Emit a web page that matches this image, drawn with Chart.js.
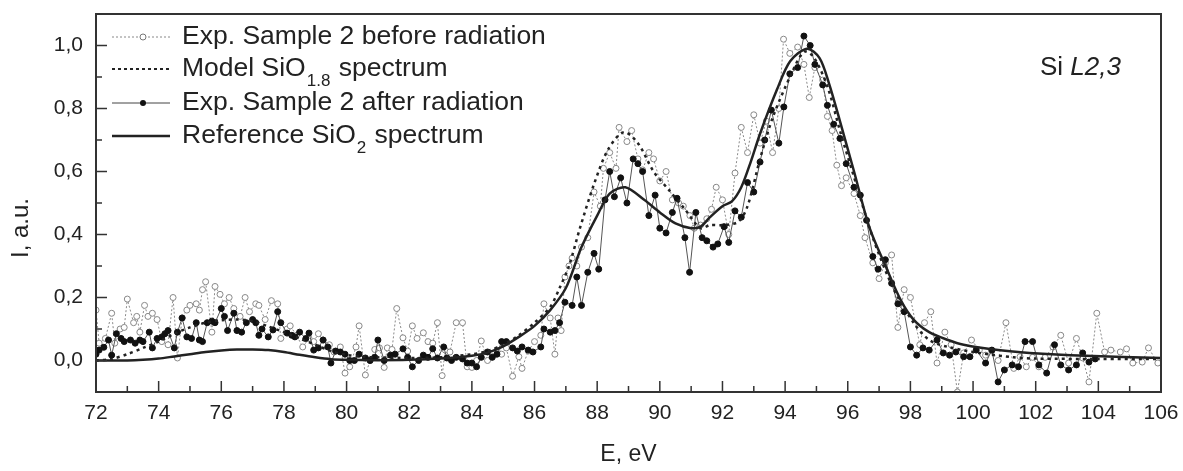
<!DOCTYPE html>
<html>
<head>
  <meta charset="utf-8">
  <title>Si L2,3 spectra</title>
  <script src="https://cdn.jsdelivr.net/npm/chart.js"></script>
  <style>
    body { margin: 0; background: #fff; }
    #wrap { width: 1183px; height: 471px; }
  </style>
</head>
<body>
<div id="wrap"><canvas id="chart" width="1183" height="471"></canvas></div>
<script>
  // tick labels
  const xTicks = [72, 74, 76, 78, 80, 82, 84, 86, 88, 90, 92, 94, 96, 98, 100, 102, 104, 106];
  const yTicks = [0, 0.2, 0.4, 0.6, 0.8, 1.0];

  // Exp. Sample 2 before radiation (open circles)
  const eBefore = [72.0, 72.1, 72.3, 72.5, 72.6, 72.77, 72.9, 73.0, 73.2, 73.3, 73.4, 73.55, 73.66, 73.8, 73.95,
    74.1, 74.3, 74.46, 74.6, 74.75, 74.9, 75.0, 75.2, 75.3, 75.4, 75.5, 75.7, 75.8, 75.96, 76.1, 76.25, 76.4,
    76.6, 76.76, 76.9, 77.1, 77.2, 77.4, 77.6, 77.8, 77.9, 78.1, 78.2, 78.4, 78.6, 78.8, 78.95, 79.1, 79.25,
    79.45, 79.6, 79.8, 79.95, 80.1, 80.3, 80.4, 80.6, 80.75, 80.9, 81.05, 81.2, 81.3, 81.45, 81.6, 81.8, 81.95,
    82.1, 82.25, 82.45, 82.6, 82.75, 82.9, 83.05, 83.15, 83.3, 83.5, 83.7, 83.85, 84.0, 84.15, 84.3, 84.5,
    84.65, 84.8, 84.95, 85.1, 85.3, 85.5, 85.6, 85.8, 86.0, 86.2, 86.3, 86.5, 86.65, 86.75, 86.85, 86.97,
    87.1, 87.2, 87.35, 87.5, 87.7, 87.9, 88.1, 88.2, 88.4, 88.6, 88.7, 88.95, 89.1, 89.3, 89.45, 89.65, 89.8,
    90.0, 90.2, 90.4, 90.6, 90.75, 90.96, 91.1, 91.3, 91.5, 91.65, 91.8, 92.0, 92.2, 92.4, 92.6, 92.8, 93.0,
    93.2, 93.4, 93.6, 93.8, 93.95, 94.15, 94.4, 94.6, 94.77, 94.95, 95.2, 95.35, 95.5, 95.65, 95.8, 95.95,
    96.2, 96.4, 96.55, 96.8, 97.0, 97.2, 97.4, 97.6, 97.8, 98.0, 98.3, 98.45, 98.65, 98.85, 99.1, 99.3, 99.5,
    99.7, 99.95, 100.2, 100.4, 100.6, 100.8, 101.05, 101.3, 101.5, 101.7, 101.9, 102.1, 102.3, 102.55, 102.8,
    103.05, 103.3, 103.5, 103.7, 103.95, 104.2, 104.4, 104.7, 104.9, 105.1, 105.4, 105.6, 105.9];
  const iBefore = [0.16, 0.055, 0.07, 0.15, 0.055, 0.10, 0.105, 0.195, 0.12, 0.14, 0.09, 0.175, 0.14, 0.15, 0.13,
    0.06, 0.05, 0.20, 0.008, 0.135, 0.16, 0.175, 0.18, 0.16, 0.225, 0.25, 0.09, 0.235, 0.21, 0.18, 0.20, 0.165,
    0.14, 0.20, 0.155, 0.18, 0.175, 0.13, 0.19, 0.18, 0.07, 0.10, 0.11, 0.08, 0.043, 0.07, 0.06, 0.085, 0.065,
    0.05, 0.027, 0.043, -0.04, -0.02, 0.043, 0.11, -0.046, 0.0, 0.035, 0.04, -0.022, 0.04, 0.035, 0.165, 0.072, 0.03,
    0.11, 0.07, 0.088, 0.06, 0.055, 0.12, -0.048, 0.033, 0.027, 0.12, 0.12, -0.02, -0.022, 0.0, 0.062, 0.0,
    0.012, 0.033, 0.02, 0.04, -0.05, 0.012, -0.025, 0.03, 0.06, 0.08, 0.18, 0.135, 0.02, 0.135, 0.095, 0.265,
    0.30, 0.325, 0.30, 0.36, 0.39, 0.535, 0.49, 0.61, 0.66, 0.61, 0.74, 0.695, 0.73, 0.64, 0.605, 0.66, 0.64,
    0.57, 0.60, 0.51, 0.50, 0.49, 0.46, 0.42, 0.43, 0.45, 0.48, 0.55, 0.51, 0.40, 0.595, 0.74, 0.66, 0.78,
    0.69, 0.76, 0.66, 0.80, 1.02, 0.975, 0.995, 0.94, 0.835, 0.93, 0.89, 0.775, 0.73, 0.62, 0.555, 0.58,
    0.53, 0.46, 0.39, 0.31, 0.26, 0.31, 0.335, 0.105, 0.225, 0.20, 0.05, 0.12, 0.155, -0.008, 0.09, 0.05, -0.1,
    0.024, 0.065, 0.033, 0.017, 0.03, 0.0, 0.12, -0.025, 0.012, -0.02, 0.01, -0.02, 0.01, 0.043, 0.08,
    -0.008, 0.07, 0.008, -0.068, 0.15, 0.027, 0.033, 0.027, 0.037, -0.008, -0.005, 0.04, -0.008];

  // Exp. Sample 2 after radiation (filled circles)
  const eAfter = [72.0, 72.1, 72.25, 72.4, 72.5, 72.65, 72.8, 72.9, 73.1, 73.25, 73.4, 73.5, 73.7, 73.8, 73.95,
    74.1, 74.2, 74.3, 74.5, 74.6, 74.75, 74.9, 75.05, 75.2, 75.3, 75.4, 75.55, 75.7, 75.8, 76.0, 76.1, 76.2,
    76.4, 76.5, 76.65, 76.8, 77.0, 77.1, 77.2, 77.3, 77.5, 77.65, 77.8, 77.9, 78.1, 78.25, 78.35, 78.5, 78.7,
    78.8, 78.95, 79.1, 79.25, 79.4, 79.5, 79.65, 79.8, 79.95, 80.1, 80.25, 80.4, 80.6, 80.75, 80.9, 81.0,
    81.2, 81.4, 81.55, 81.8, 81.95, 82.1, 82.3, 82.45, 82.6, 82.75, 82.9, 83.1, 83.2, 83.35, 83.5, 83.7,
    83.85, 84.0, 84.15, 84.3, 84.5, 84.65, 84.8, 84.95, 85.1, 85.3, 85.45, 85.6, 85.8, 85.95, 86.2, 86.3,
    86.5, 86.65, 86.8, 86.97, 87.2, 87.35, 87.5, 87.7, 87.9, 88.05, 88.25, 88.4, 88.55, 88.75, 88.95, 89.15,
    89.3, 89.45, 89.65, 89.85, 90.0, 90.2, 90.4, 90.55, 90.8, 90.95, 91.15, 91.35, 91.5, 91.7, 91.85, 92.05,
    92.2, 92.4, 92.6, 92.8, 93.0, 93.2, 93.35, 93.56, 93.8, 93.96, 94.15, 94.4, 94.6, 94.8, 94.95, 95.2,
    95.35, 95.55, 95.75, 95.95, 96.2, 96.4, 96.6, 96.8, 96.97, 97.2, 97.4, 97.6, 97.8, 98.0, 98.2, 98.4,
    98.6, 98.85, 99.05, 99.25, 99.45, 99.7, 99.9, 100.1, 100.4, 100.6, 100.8, 101.0, 101.25, 101.45, 101.66,
    101.9, 102.1, 102.35, 102.6, 102.8, 103.05, 103.3, 103.5, 103.7, 103.9];
  const iAfter = [0.02, 0.033, 0.042, 0.065, 0.017, 0.085, 0.07, 0.06, 0.065, 0.055, 0.065, 0.06, 0.09, 0.04, 0.07,
    0.075, 0.085, 0.095, 0.04, 0.09, 0.135, 0.075, 0.07, 0.12, 0.065, 0.06, 0.12, 0.125, 0.12, 0.165, 0.14, 0.095,
    0.15, 0.095, 0.09, 0.12, 0.13, 0.12, 0.08, 0.10, 0.075, 0.097, 0.155, 0.12, 0.087, 0.08, 0.075, 0.09, 0.07,
    0.087, 0.033, 0.04, 0.065, 0.043, -0.008, 0.03, 0.027, 0.02, 0.0, 0.0, 0.02, 0.008, 0.0, 0.01, 0.065,
    0.0, 0.017, 0.02, 0.037, 0.01, -0.02, 0.0, 0.017, 0.01, 0.037, 0.008, 0.043, 0.008, 0.0, 0.01, 0.005,
    -0.008, -0.008, -0.02, 0.01, 0.027, 0.01, 0.02, 0.06, 0.06, 0.04, 0.03, 0.043, 0.033, 0.027, 0.043, 0.10,
    0.09, 0.095, 0.12, 0.185, 0.175, 0.265, 0.175, 0.28, 0.34, 0.29, 0.51, 0.60, 0.52, 0.58, 0.50, 0.64,
    0.625, 0.60, 0.46, 0.525, 0.42, 0.405, 0.47, 0.515, 0.39, 0.28, 0.47, 0.39, 0.38, 0.36, 0.37, 0.425,
    0.375, 0.475, 0.455, 0.565, 0.535, 0.63, 0.70, 0.795, 0.69, 0.805, 0.91, 0.93, 1.03, 1.0, 0.94, 0.875,
    0.81, 0.75, 0.705, 0.625, 0.55, 0.525, 0.445, 0.33, 0.29, 0.32, 0.245, 0.18, 0.155, 0.043, 0.017, 0.04,
    0.033, 0.065, 0.024, 0.017, 0.027, 0.012, 0.012, 0.033, -0.008, 0.033, -0.068, -0.03, -0.014, -0.02, 0.06,
    0.06, -0.014, -0.04, 0.05, -0.014, -0.03, -0.014, 0.024, -0.005, 0.005];

  // Model SiO1.8 spectrum (dashed)
  const eModel = [72.0, 72.5, 73.0, 73.5, 74.0, 74.5, 75.0, 75.5, 76.0, 76.5, 77.0, 77.5, 78.0, 78.5, 79.0, 79.5,
    80.0, 80.5, 81.0, 82.0, 83.0, 84.0, 84.5, 85.0, 85.5, 86.0, 86.5, 86.8, 87.1, 87.45, 87.9, 88.35, 88.85,
    89.3, 89.8, 90.3, 90.8, 91.3, 91.6, 92.0, 92.5, 92.8, 93.2, 93.6, 94.2, 94.6, 94.9, 95.35, 95.75, 96.3,
    96.8, 97.45, 98.1, 98.6, 99.2, 100.2, 101.3, 102.0, 104.0, 106.0];
  const iModel = [0.0, 0.005, 0.02, 0.04, 0.06, 0.085, 0.105, 0.12, 0.128, 0.13, 0.125, 0.108, 0.09, 0.07, 0.05, 0.03,
    0.018, 0.012, 0.01, 0.008, 0.01, 0.02, 0.03, 0.05, 0.08, 0.12, 0.17, 0.23, 0.30, 0.42, 0.56, 0.67, 0.725,
    0.69, 0.60, 0.54, 0.48, 0.42, 0.43, 0.43, 0.44, 0.49, 0.64, 0.77, 0.91, 0.98, 0.965, 0.87, 0.73, 0.55,
    0.39, 0.23, 0.12, 0.065, 0.043, 0.024, 0.01, 0.006, 0.005, 0.005];

  // Reference SiO2 spectrum (thick solid)
  const eRef = [72.0, 73.0, 73.5, 74.0, 74.5, 75.0, 75.5, 76.0, 76.5, 77.0, 77.5, 78.0, 78.5, 79.0, 79.5, 80.0,
    81.0, 82.0, 83.0, 84.0, 84.5, 85.0, 85.5, 86.0, 86.5, 87.0, 87.5, 88.0, 88.4, 88.9, 89.5, 90.0, 90.5,
    91.0, 91.3, 91.6, 92.0, 92.3, 92.6, 92.9, 93.2, 93.74, 94.16, 94.7, 95.1, 95.4, 95.75, 96.2, 96.7, 97.25,
    97.7, 98.1, 98.6, 99.2, 99.7, 100.8, 101.8, 103.6, 106.0];
  const iRef = [0.0, 0.0, 0.002, 0.006, 0.013, 0.02, 0.027, 0.032, 0.035, 0.035, 0.033, 0.027, 0.018, 0.01, 0.004, 0.002,
    0.001, 0.002, 0.006, 0.015, 0.025, 0.045, 0.075, 0.11, 0.16, 0.23, 0.36, 0.46, 0.53, 0.55, 0.51, 0.47, 0.435,
    0.42, 0.425, 0.455, 0.49, 0.505, 0.55, 0.63, 0.72, 0.86, 0.95, 0.99, 0.96, 0.88, 0.76, 0.60, 0.42, 0.29,
    0.19, 0.13, 0.09, 0.065, 0.05, 0.033, 0.024, 0.015, 0.008];

  function pts(xs, ys) {
    return xs.map(function (x, i) { return { x: x, y: ys[i] }; });
  }

  const FONT = "'Liberation Sans', Arial, sans-serif";

  // frame + inward ticks, axis title, legend and the Si L2,3 label
  const decorPlugin = {
    id: 'decor',
    afterDraw(chart) {
      const ctx = chart.ctx;
      const a = chart.chartArea;
      const xs = chart.scales.x, ys = chart.scales.y;
      ctx.save();
      ctx.strokeStyle = '#333';
      ctx.lineWidth = 2;
      ctx.strokeRect(a.left, a.top, a.right - a.left, a.bottom - a.top);

      ctx.lineWidth = 1.5;
      ctx.beginPath();
      for (let v = 73; v <= 105; v += 2) {
        const px = xs.getPixelForValue(v);
        ctx.moveTo(px, a.bottom); ctx.lineTo(px, a.bottom - 6);
      }
      xTicks.forEach(function (v) {
        const px = xs.getPixelForValue(v);
        ctx.moveTo(px, a.bottom); ctx.lineTo(px, a.bottom - 11);
      });
      [-0.1, 0.1, 0.3, 0.5, 0.7, 0.9, 1.1].forEach(function (v) {
        const py = ys.getPixelForValue(v);
        ctx.moveTo(a.left, py); ctx.lineTo(a.left + 6, py);
      });
      yTicks.forEach(function (v) {
        const py = ys.getPixelForValue(v);
        ctx.moveTo(a.left, py); ctx.lineTo(a.left + 11, py);
      });
      ctx.stroke();

      ctx.fillStyle = '#222';
      ctx.textBaseline = 'middle';

      // y axis title
      ctx.save();
      ctx.translate(21, 228);
      ctx.rotate(-Math.PI / 2);
      ctx.textAlign = 'center';
      ctx.font = '24px ' + FONT;
      ctx.fillText('I, a.u.', 0, 0);
      ctx.restore();

      // legend
      const lx0 = 112, lx1 = 170, tx = 182;
      const rows = [37, 69, 103, 136];
      const big = '26.5px ' + FONT, small = '17px ' + FONT;
      ctx.font = big;

      // row 1: before
      ctx.strokeStyle = '#888'; ctx.lineWidth = 1; ctx.setLineDash([2, 2]);
      ctx.beginPath(); ctx.moveTo(lx0, rows[0]); ctx.lineTo(lx1, rows[0]); ctx.stroke();
      ctx.setLineDash([]);
      ctx.fillStyle = '#fff'; ctx.strokeStyle = '#777';
      ctx.beginPath(); ctx.arc(143, rows[0], 3, 0, Math.PI * 2); ctx.fill(); ctx.stroke();
      ctx.fillStyle = '#222';
      ctx.fillText('Exp. Sample 2 before radiation', tx, rows[0]);

      // row 2: model
      ctx.strokeStyle = '#222'; ctx.lineWidth = 2; ctx.setLineDash([3, 3]);
      ctx.beginPath(); ctx.moveTo(lx0, rows[1]); ctx.lineTo(lx1, rows[1]); ctx.stroke();
      ctx.setLineDash([]);
      let w = 0;
      ctx.fillText('Model SiO', tx, rows[1]);
      w = ctx.measureText('Model SiO').width;
      ctx.font = small;
      ctx.fillText('1.8', tx + w + 1, rows[1] + 12);
      const w2 = ctx.measureText('1.8').width;
      ctx.font = big;
      ctx.fillText(' spectrum', tx + w + w2 + 2, rows[1]);

      // row 3: after
      ctx.strokeStyle = '#444'; ctx.lineWidth = 1;
      ctx.beginPath(); ctx.moveTo(lx0, rows[2]); ctx.lineTo(lx1, rows[2]); ctx.stroke();
      ctx.fillStyle = '#111';
      ctx.beginPath(); ctx.arc(143, rows[2], 3, 0, Math.PI * 2); ctx.fill();
      ctx.fillStyle = '#222';
      ctx.fillText('Exp. Sample 2 after radiation', tx, rows[2]);

      // row 4: reference
      ctx.strokeStyle = '#222'; ctx.lineWidth = 2.5;
      ctx.beginPath(); ctx.moveTo(lx0, rows[3]); ctx.lineTo(lx1, rows[3]); ctx.stroke();
      ctx.fillText('Reference SiO', tx, rows[3]);
      w = ctx.measureText('Reference SiO').width;
      ctx.font = small;
      ctx.fillText('2', tx + w + 1, rows[3] + 12);
      const w3 = ctx.measureText('2').width;
      ctx.font = big;
      ctx.fillText(' spectrum', tx + w + w3 + 2, rows[3]);

      // Si L2,3
      ctx.font = '26px ' + FONT;
      ctx.fillText('Si ', 1040, 68);
      const ws = ctx.measureText('Si ').width;
      ctx.font = 'italic 26px ' + FONT;
      ctx.fillText('L2,3', 1040 + ws, 68);
      ctx.restore();
    }
  };

  new Chart(document.getElementById('chart'), {
    type: 'line',
    data: {
      datasets: [
        {
          label: 'Reference SiO2 spectrum',
          data: pts(eRef, iRef),
          borderColor: '#222',
          borderWidth: 2.5,
          pointRadius: 0,
          tension: 0.3,
          order: 1
        },
        {
          label: 'Model SiO1.8 spectrum',
          data: pts(eModel, iModel),
          borderColor: '#222',
          borderWidth: 2.5,
          borderDash: [3, 4],
          pointRadius: 0,
          tension: 0.3,
          order: 2
        },
        {
          label: 'Exp. Sample 2 after radiation',
          data: pts(eAfter, iAfter),
          borderColor: '#555',
          borderWidth: 1,
          pointRadius: 3,
          pointBackgroundColor: '#111',
          pointBorderColor: '#111',
          pointBorderWidth: 1,
          order: 3
        },
        {
          label: 'Exp. Sample 2 before radiation',
          data: pts(eBefore, iBefore),
          borderColor: '#8a8a8a',
          borderWidth: 1,
          borderDash: [2, 2],
          pointRadius: 3,
          pointBackgroundColor: '#fff',
          pointBorderColor: '#888',
          pointBorderWidth: 1,
          order: 4
        }
      ]
    },
    options: {
      responsive: false,
      animation: false,
      layout: { padding: { left: 0, right: 22, top: 14, bottom: 0 } },
      plugins: {
        legend: { display: false },
        tooltip: { enabled: false }
      },
      scales: {
        x: {
          type: 'linear',
          min: 72,
          max: 106,
          grid: { display: false, drawTicks: false },
          border: { display: false },
          afterFit: function (scale) {
            scale.height = 79;
            scale.paddingLeft = 0;
            scale.paddingRight = 0;
          },
          afterBuildTicks: function (scale) { scale.ticks = xTicks.map(function (v) { return { value: v }; }); },
          ticks: {
            padding: 9,
            color: '#222',
            font: { family: FONT, size: 21 },
            maxRotation: 0,
            autoSkip: false
          },
          title: {
            display: true,
            text: 'E, eV',
            color: '#222',
            font: { family: FONT, size: 23 },
            padding: { top: 0, bottom: 3 }
          }
        },
        y: {
          min: -0.1,
          max: 1.1,
          grid: { display: false, drawTicks: false },
          border: { display: false },
          afterFit: function (scale) {
            scale.width = 96;
            scale.paddingTop = 0;
            scale.paddingBottom = 0;
          },
          afterBuildTicks: function (scale) { scale.ticks = yTicks.map(function (v) { return { value: v }; }); },
          ticks: {
            padding: 13,
            color: '#222',
            font: { family: FONT, size: 21 },
            callback: function (v) { return v.toFixed(1).replace('.', ','); }
          },
          title: { display: false }
        }
      }
    },
    plugins: [decorPlugin]
  });
</script>
</body>
</html>
